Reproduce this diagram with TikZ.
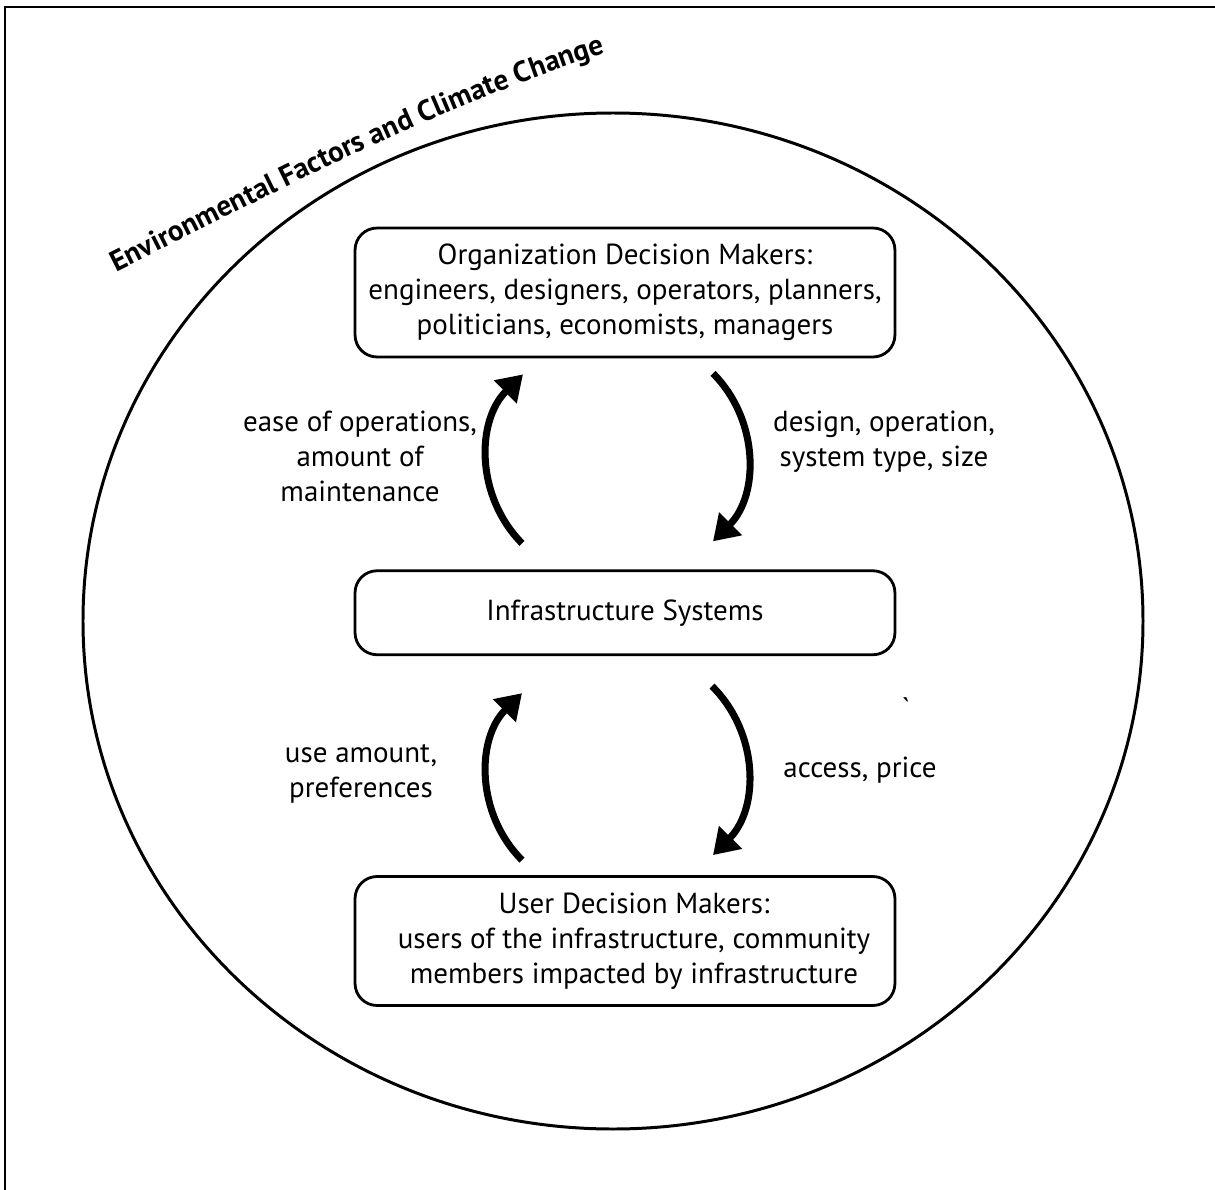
\documentclass[tikz,border=0pt]{standalone}
\usepackage{fontspec}
\setmainfont{PT Sans}
\usepackage{tikz}
\usetikzlibrary{positioning}
\usetikzlibrary{arrows.meta}
\usetikzlibrary{calc}
\usetikzlibrary{decorations.text}

\begin{document}
\begin{tikzpicture}[
        x=0.02cm, y=-0.02cm,
        box/.style={
            rectangle,
            draw,
            line width=1.6pt,
            rounded corners=0.44cm,
            minimum width=10.8cm,
            align=center,
            font=\fontsize{16.5}{19.9}\selectfont
        },
        lbl/.style={
            align=center,
            font=\fontsize{16.5}{19.9}\selectfont
        },
        arrow/.style={
            -{Triangle[length=0.5cm, width=0.62cm]},
            line width=4pt
        }
    ]
    \useasboundingbox (0,0) rectangle (1215,1190);

    % Frame and environment
    \draw[line width=0.9pt] (5,1190) -- (5,7) -- (1215,7);
    \draw[line width=1.7pt] (613,621) ellipse [x radius=530, y radius=508];
    \path[decorate, decoration={text along path, text align=left,
        text format delimiters={|}{|},
        text={|\fontsize{16.6}{20}\selectfont\bfseries|Environmental Factors and Climate Change}}]
        (116,272) .. controls (270,195) and (430,110) .. (600,55) -- (720,20);

    % Nodes
    \node[box, minimum height=2.58cm] (org) at (625,292.5)
        {Organization Decision Makers:\\engineers, designers, operators, planners,\\politicians, economists, managers};
    \node[box, minimum height=1.68cm, below=4.22cm of org] (infra) {Infrastructure Systems};
    \node[box, minimum height=2.58cm, below=4.38cm of infra] (user)
        {\hspace*{0.36cm}User Decision Makers:\\\hspace*{0.36cm}users of the infrastructure, community\\\hspace*{0.36cm}members impacted by infrastructure};

    \node[lbl] (ease) at (360,456) {ease of operations,\\amount of\\maintenance};
    \node[lbl] (design) at (884,442) {design, operation,\\system type, size};
    \node[lbl] (use) at (361,774) {use amount,\\preferences};
    \node[lbl] (access) at (860,770) {access, price};
    \node[lbl] (tick) at (906,708) {\textasciigrave};

    % Arrows
    \draw[arrow] ($(infra.north)+(-103,-26)$) to[bend left=45] ($(org.south)+(-102,16)$);
    \draw[arrow] ($(org.south)+(88,15)$) to[bend left=45] ($(infra.north)+(88,-28)$);
    \draw[arrow] ($(user.north)+(-103,-15)$) to[bend left=45] ($(infra.south)+(-103,37)$);
    \draw[arrow] ($(infra.south)+(87,30)$) to[bend left=45] ($(user.north)+(88,-20)$);

\end{tikzpicture}
\end{document}
